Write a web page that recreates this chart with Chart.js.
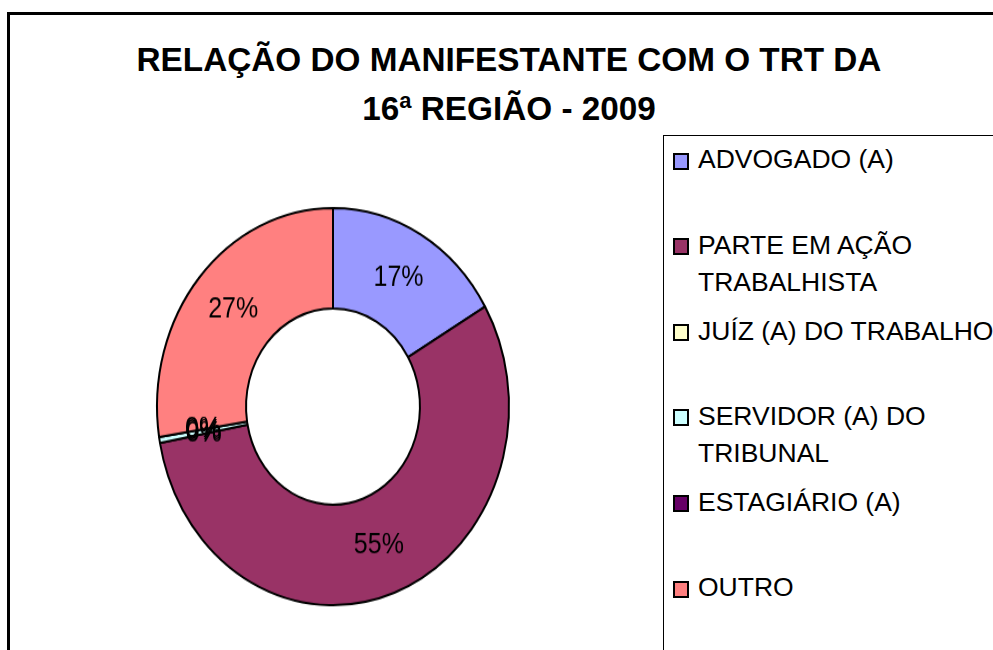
<!DOCTYPE html>
<html>
<head>
<meta charset="utf-8">
<script src="https://cdn.jsdelivr.net/npm/chart.js@4"></script>
<style>
  html, body { margin: 0; padding: 0; background: #fff; width: 993px; height: 650px; overflow: hidden; }
  body { position: relative; font-family: "Liberation Sans", Arial, sans-serif; }
  #frame { position: absolute; left: 7px; top: 12px; width: 1100px; height: 800px; border-left: 3px solid #000; border-top: 3px solid #000; box-sizing: border-box; }
  #title { position: absolute; left: 25px; width: 968px; top: 34.5px; text-align: center; font-weight: bold; font-size: 33.3px; line-height: 49px; color: #000; white-space: nowrap; }
  #legendBox { position: absolute; left: 663px; top: 135px; width: 500px; height: 700px; border: 1px solid #000; box-sizing: border-box; }
  #legend { position: absolute; left: 0; top: 0; }
  .item { position: absolute; left: 673px; width: 320px; }
  .sw { position: absolute; left: 0; top: 11.4px; width: 12px; height: 13px; border: 2px solid #000; }
  .txt { position: absolute; left: 25px; top: 0; width: 300px; font-size: 26.5px; line-height: 37px; color: #000; white-space: normal; }
  #donutWrap { position: absolute; left: 133px; top: 180.9px; width: 400px; height: 400px; transform: scaleY(1.128); transform-origin: 0 0; }
</style>
</head>
<body>
<div id="frame"></div>
<div id="title"></div>
<div id="legendBox"></div>
<div id="legend"></div>
<div id="donutWrap"><canvas id="c" width="400" height="400"></canvas></div>
<script>
const titleLines = ['RELAÇÃO DO MANIFESTANTE COM O TRT DA', '16ª REGIÃO - 2009'];
const categories = ['ADVOGADO (A)', 'PARTE EM AÇÃO TRABALHISTA', 'JUÍZ (A) DO TRABALHO', 'SERVIDOR (A) DO TRIBUNAL', 'ESTAGIÁRIO (A)', 'OUTRO'];
const shares = [16.6, 55.45, 0, 0.49, 0, 27.45];
const colors = ['#9999FF', '#993366', '#FFFFCC', '#CCFFFF', '#660066', '#FF8080'];

// Title
const titleEl = document.getElementById('title');
titleLines.forEach(function (t) {
  const d = document.createElement('div');
  d.textContent = t;
  titleEl.appendChild(d);
});

// Legend
const legendEl = document.getElementById('legend');
const legendTop = 141.3, legendStep = 85.6;
categories.forEach(function (name, i) {
  const it = document.createElement('div');
  it.className = 'item';
  it.style.top = (legendTop + i * legendStep) + 'px';
  const sw = document.createElement('div');
  sw.className = 'sw';
  sw.style.background = colors[i];
  const tx = document.createElement('div');
  tx.className = 'txt';
  tx.textContent = name;
  it.appendChild(sw);
  it.appendChild(tx);
  legendEl.appendChild(it);
});

const total = shares.reduce(function (a, b) { return a + b; }, 0);

const labelPlugin = {
  id: 'sliceLabels',
  afterDatasetsDraw: function (chart) {
    const ctx = chart.ctx;
    const meta = chart.getDatasetMeta(0);
    ctx.save();
    ctx.font = '25px "Liberation Sans", Arial, sans-serif';
    ctx.fillStyle = '#000';
    ctx.textAlign = 'center';
    ctx.textBaseline = 'middle';
    meta.data.forEach(function (arc, i) {
      const p = arc.getCenterPoint();
      const pct = Math.round(shares[i] / total * 100) + '%';
      ctx.fillText(pct, p.x, p.y);
    });
    ctx.restore();
  }
};

new Chart(document.getElementById('c'), {
  type: 'doughnut',
  data: {
    labels: categories,
    datasets: [{
      data: shares,
      backgroundColor: colors,
      borderColor: '#000',
      borderWidth: 2
    }]
  },
  options: {
    responsive: false,
    maintainAspectRatio: false,
    animation: false,
    events: [],
    radius: 176,
    cutout: '49.4%',
    layout: { padding: 0 },
    plugins: {
      legend: { display: false },
      title: { display: false },
      tooltip: { enabled: false }
    }
  },
  plugins: [labelPlugin]
});
</script>
</body>
</html>
